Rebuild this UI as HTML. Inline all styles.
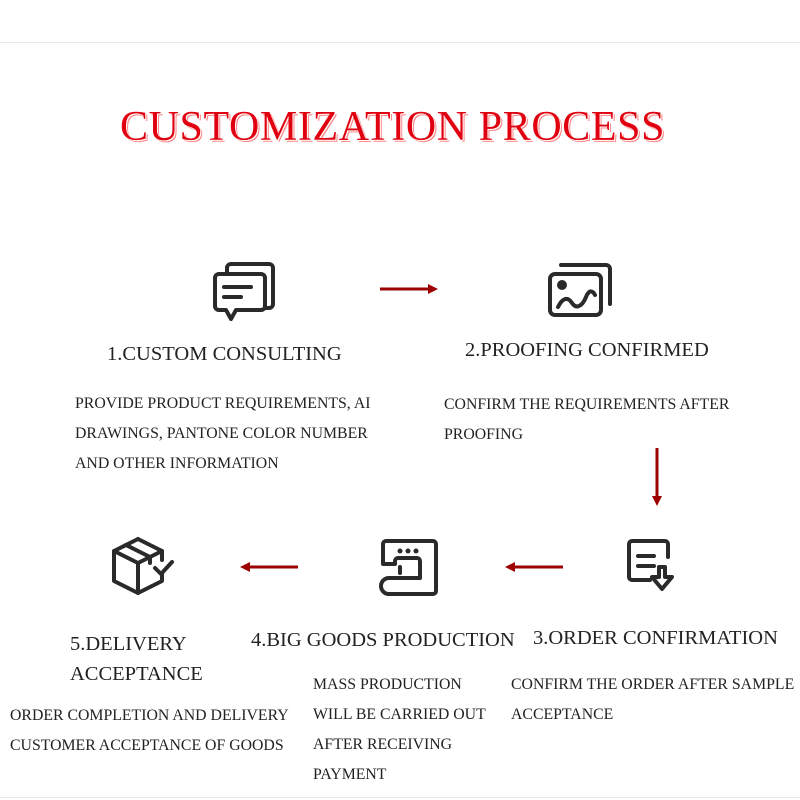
<!DOCTYPE html>
<html><head><meta charset="utf-8"><style>
body{margin:0;width:800px;height:800px;background:#fff;position:relative;overflow:hidden;font-family:"Liberation Serif",serif;color:#222}
.a{position:absolute;white-space:nowrap}
.h{font-size:20.5px;color:#222}
.b{font-size:15.8px;line-height:30px;color:#222}
.t{font-size:42px;color:#e00010;text-shadow:1px 1px 0 #fff,2px 2px 0 #f88;letter-spacing:0.6px}
</style></head><body>
<div class="a" style="left:0;top:42px;width:800px;height:1px;background:#e6e6e6"></div>
<div class="a" style="left:0;top:797px;width:800px;height:1px;background:#e6e6e6"></div>
<div class="a t" style="left:120px;top:103px">CUSTOMIZATION PROCESS</div>

<svg class="a" style="left:0;top:0" width="800" height="800" fill="none" stroke="#2a2a2a" stroke-width="4" stroke-linecap="round" stroke-linejoin="round">
<path d="M227 274 v-6 a4 4 0 0 1 4-4 h38 a4 4 0 0 1 4 4 v36 a4 4 0 0 1-4 4 h-4"/>
<path d="M219 274 h42 a4 4 0 0 1 4 4 v28 a4 4 0 0 1-4 4 h-25 l-5 9 l-5-9 h-7 a4 4 0 0 1-4-4 v-28 a4 4 0 0 1 4-4z"/>
<path d="M224 287 h27 M224 297 h17"/>
<path d="M561 265 h45 a4 4 0 0 1 4 4 v35"/>
<rect x="550" y="274" width="51" height="41" rx="5"/>
<circle cx="562" cy="285" r="3" fill="#2a2a2a"/>
<path d="M558 307 c5-10 10-10 14-4 s10 4 14-6 s8-4 9-2"/>
<path d="M650 580 h-18 a3 3 0 0 1-3-3 v-33 a3 3 0 0 1 3-3 h33 a3 3 0 0 1 3 3 v13"/>
<path d="M638 556 h16 M638 566 h16"/>
<path d="M665 567 v10 h7 l-10 12 l-10-12 h7 v-10z"/>
<path d="M386 541 H433 a3 3 0 0 1 3 3 V591 a3 3 0 0 1 -3 3 H389 a8 8 0 0 1 0-16 H420 V561 a3 3 0 0 0 -3 -3 H398 a3 3 0 0 0 -3 3 v3 H383 V544 a3 3 0 0 1 3-3z"/>
<path d="M400 567 v6"/>
<path d="M400 551 v0 M408 551 v0 M416 551 v0" stroke-width="5"/>
<path d="M138 539 l-24 12 v30 l24 12 l24-12 v-7 M162 560 v-9 l-24-12"/>
<path d="M114 551 l24 12 l24-12 M138 563 v30 M126 545 l24 12 v6"/>
<path d="M155 568 l6 6 l11-12"/>
</svg>

<svg class="a" style="left:0;top:0" width="800" height="800">
<g fill="#9c0000" stroke="#9c0000" stroke-width="3">
<line x1="380" y1="289" x2="430" y2="289"/><polygon points="428,284 438,289 428,294" stroke="none"/>
<line x1="657" y1="448" x2="657" y2="498"/><polygon points="652,496 657,506 662,496" stroke="none"/>
<line x1="563" y1="567" x2="513" y2="567"/><polygon points="515,562 505,567 515,572" stroke="none"/>
<line x1="298" y1="567" x2="248" y2="567"/><polygon points="250,562 240,567 250,572" stroke="none"/>
</g></svg>

<div class="a h" style="left:107px;top:343px">1.CUSTOM CONSULTING</div>
<div class="a b" style="left:75px;top:389px">PROVIDE PRODUCT REQUIREMENTS, AI<br>DRAWINGS, PANTONE COLOR NUMBER<br>AND OTHER INFORMATION</div>

<div class="a h" style="left:465px;top:339px">2.PROOFING CONFIRMED</div>
<div class="a b" style="left:444px;top:390px">CONFIRM THE REQUIREMENTS AFTER<br>PROOFING</div>

<div class="a h" style="left:533px;top:627px">3.ORDER CONFIRMATION</div>
<div class="a b" style="left:511px;top:670px">CONFIRM THE ORDER AFTER SAMPLE<br>ACCEPTANCE</div>

<div class="a h" style="left:251px;top:629px">4.BIG GOODS PRODUCTION</div>
<div class="a b" style="left:313px;top:670px">MASS PRODUCTION<br>WILL BE CARRIED OUT<br>AFTER RECEIVING<br>PAYMENT</div>

<div class="a h" style="left:70px;top:629px;line-height:30px">5.DELIVERY<br>ACCEPTANCE</div>
<div class="a b" style="left:10px;top:701px">ORDER COMPLETION AND DELIVERY<br>CUSTOMER ACCEPTANCE OF GOODS</div>
</body></html>
